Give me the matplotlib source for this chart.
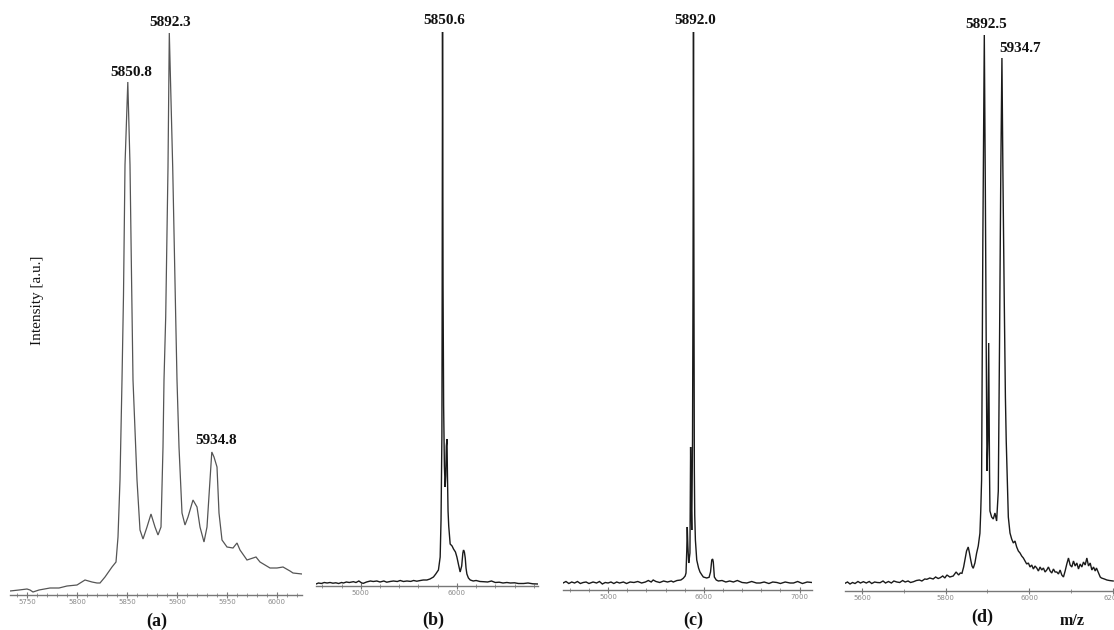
import matplotlib
matplotlib.use("Agg")
import matplotlib.pyplot as plt
from matplotlib.ticker import MultipleLocator, FixedLocator

# ---------------- data (m/z, intensity in arbitrary units) ----------------
a_mz = [5733, 5742, 5750, 5753, 5756, 5762, 5773, 5782, 5790, 5800, 5808, 5815, 5820, 5823, 5828,
        5835, 5839, 5841, 5843, 5845, 5846.5, 5848, 5850.8, 5853, 5854.5, 5856, 5860, 5863, 5866,
        5870, 5874, 5878, 5881, 5884, 5886, 5887, 5888.7, 5891, 5892.3, 5895.7, 5898.7, 5900, 5902,
        5905, 5908, 5911, 5916, 5920, 5923, 5927, 5930, 5933, 5934.8, 5937, 5940, 5942, 5945, 5950,
        5956, 5960, 5963, 5970, 5979, 5983, 5993, 6000, 6006, 6013, 6016, 6025]
a_int = [4, 5, 6, 5, 3, 5, 7, 7, 9, 10, 15, 13, 12, 12, 18,
         28, 33, 58, 115, 215, 300, 430, 513, 430, 320, 215, 115, 65, 56,
         68, 81, 68, 60, 68, 148, 215, 278, 428, 562, 428, 278, 215, 148,
         82, 70, 78, 95, 88, 68, 53, 68, 115, 143, 138, 128, 82, 55, 48,
         47, 52, 45, 35, 38, 33, 27, 27, 28, 24, 22, 21]

b_mz = [4534, 4560, 4590, 4620, 4650, 4680, 4710, 4740, 4770, 4800, 4819, 4850, 4880, 4923, 4950,
        4980, 5010, 5027, 5060, 5100, 5130, 5167, 5200, 5240, 5270, 5305, 5340, 5380, 5410, 5444,
        5480, 5520, 5550, 5583, 5620, 5650, 5688, 5720, 5756, 5780, 5808, 5826, 5835, 5844, 5847,
        5850.6, 5856, 5862, 5870, 5878, 5884, 5890, 5897, 5902, 5908, 5915, 5930, 5950, 5965, 5985,
        6000, 6020, 6034, 6050, 6062, 6069, 6078, 6087, 6095, 6104, 6120, 6139, 6170, 6200, 6240,
        6277, 6320, 6360, 6400, 6440, 6480, 6520, 6556, 6600, 6640, 6694, 6740, 6790, 6844]
b_int = [2, 3, 2.5, 3.5, 3, 3.5, 2.8, 3.2, 2.5, 3.5, 3, 4, 3.5, 4.3, 3.5,
         5, 3, 2.7, 4, 5, 4.5, 5, 4, 5, 3.8, 4.5, 5, 4.5, 5.5, 4.5,
         5, 4.6, 5.5, 4.8, 5.5, 6, 6, 7, 9, 12, 16, 29, 66, 150, 300,
         554, 300, 180, 120, 99, 110, 140, 147, 110, 75, 60, 42, 40, 37, 34,
         29, 20, 14, 20, 33, 36, 34, 28, 18, 12, 8, 6, 5, 5.5, 4.5,
         4.3, 4, 5, 3.5, 3.8, 3, 3.5, 3, 3.2, 2.5, 2.5, 3, 2.2, 2]

c_mz = [4529, 4560, 4590, 4620, 4650, 4680, 4710, 4740, 4770, 4800, 4843, 4880, 4910, 4940, 4970,
        5000, 5030, 5060, 5090, 5120, 5160, 5193, 5230, 5270, 5310, 5350, 5390, 5420, 5450, 5471,
        5500, 5540, 5580, 5620, 5660, 5681, 5720, 5760, 5785, 5805, 5814, 5822, 5827, 5833, 5842,
        5850, 5855, 5862, 5867, 5874, 5882, 5887, 5892.0, 5897, 5901, 5905, 5912, 5926, 5945, 5960,
        5980, 5995, 6030, 6055, 6070, 6083, 6092, 6099, 6110, 6130, 6152, 6190, 6230, 6270, 6309,
        6350, 6400, 6449, 6500, 6550, 6588, 6630, 6680, 6720, 6763, 6800, 6850, 6900, 6937, 6980,
        7030, 7080, 7130]
c_int = [7, 8.5, 6.5, 8, 7, 8.5, 6.5, 7.5, 8, 6.5, 8, 7, 8.5, 6, 7.5,
         7, 8, 6.5, 8, 7, 8, 6.5, 8, 7.5, 8.5, 7, 8, 9.5, 8, 10,
         8.5, 7.5, 9, 8, 9, 8, 9.5, 10, 11.7, 14, 17, 40, 63, 45, 27,
         33, 37, 143, 90, 60, 150, 300, 558, 300, 120, 75, 50, 30, 22, 18,
         15, 13, 12, 12.7, 18, 30, 31, 28, 13, 10, 9, 9.5, 8, 9, 8,
         9.5, 7.5, 7, 8.5, 7, 7, 8, 6.5, 8, 7.5, 6.5, 8, 7, 7, 8.5,
         6.5, 8, 7.5]

d_mz = [5559, 5565, 5571, 5577, 5583, 5590, 5596, 5603, 5610, 5617, 5623, 5630, 5636, 5643, 5650,
        5656, 5663, 5670, 5676, 5683, 5690, 5697, 5703, 5710, 5716, 5723, 5730, 5737, 5743, 5750,
        5755, 5762, 5770, 5776, 5782, 5787, 5793, 5798, 5803, 5810, 5818, 5825, 5831, 5835, 5839,
        5843, 5846, 5850, 5854, 5857, 5860, 5863, 5866, 5870, 5874, 5878, 5882, 5884, 5886, 5889,
        5892.5, 5895, 5897, 5899, 5901, 5903, 5905, 5906, 5910, 5914, 5918, 5922, 5926, 5929, 5932,
        5934.7, 5937, 5940, 5943, 5945, 5946, 5950, 5954, 5958, 5962, 5966, 5970, 5974, 5978, 5982,
        5986, 5990, 5994, 5998, 6002, 6006, 6010, 6014, 6018, 6022, 6026, 6030, 6034, 6038, 6042,
        6046, 6050, 6054, 6058, 6062, 6066, 6070, 6074, 6078, 6082, 6086, 6090, 6094, 6098, 6102,
        6106, 6110, 6114, 6118, 6122, 6126, 6130, 6134, 6138, 6142, 6146, 6150, 6154, 6158, 6161,
        6166, 6170, 6173, 6180, 6186, 6192, 6201]
d_int = [7.7, 9, 7, 8.5, 7.5, 9.5, 8, 9.3, 8, 9.5, 7.5, 9, 8.5, 8.3, 10,
         8, 9.5, 8, 10, 9, 8.5, 10.5, 9, 10, 8.5, 9.3, 10.5, 11, 10, 12,
         11.7, 13, 12, 14, 12.5, 13.3, 15, 13, 16, 14, 15, 19, 16, 18, 17.7,
         24, 31, 40, 44, 38, 31, 25, 22.7, 28, 37.7, 45, 57.7, 80, 111, 350,
         556, 400, 250, 120, 150, 248, 120, 80, 74, 72, 78, 70, 100, 250, 420,
         533, 420, 300, 194, 150, 134, 74, 58, 52, 48, 50, 44, 40, 38, 35,
         33, 30, 27, 28, 24, 26, 22, 25, 23, 20, 24, 21, 23, 19, 21,
         24, 20, 18, 22, 19, 19, 17, 21, 16, 14, 20, 27, 33, 26, 24,
         30, 25, 28, 22, 27, 24, 29, 26, 33, 25, 28, 21, 24, 20, 23,
         18, 14, 13, 12, 11, 10.5, 10]

a_peaks = [(5850.8, "5850.8"), (5892.3, "5892.3"), (5934.8, "5934.8")]
b_peaks = [(5850.6, "5850.6")]
c_peaks = [(5892.0, "5892.0")]
d_peaks = [(5892.5, "5892.5"), (5934.7, "5934.7")]

a_ticks = [5750, 5800, 5850, 5900, 5950, 6000]
b_ticks = [5000, 6000]
c_ticks = [5000, 6000, 7000]
d_ticks = [5600, 5800, 6000, 6200]

panel_labels = ["(a)", "(b)", "(c)", "(d)"]

# ---------------- figure ----------------
W, H = 1114, 630
fig = plt.figure(figsize=(W / 100, H / 100), dpi=100)
fig.patch.set_facecolor("white")

serif = ["Liberation Serif", "DejaVu Serif"]

def add_panel(left_px, right_px, base_px, xlim, mz, inten, ticks, minor, peaks,
              offsets, color, lw):
    ax = fig.add_axes([left_px / W, (H - base_px) / H, (right_px - left_px) / W, base_px / H])
    ax.plot(mz, inten, color=color, lw=lw, solid_joinstyle="miter")
    ax.set_xlim(*xlim)
    ax.set_ylim(0, base_px)
    ax.patch.set_alpha(0)
    for s in ("left", "right", "top"):
        ax.spines[s].set_visible(False)
    ax.spines["bottom"].set_color("#777777")
    ax.spines["bottom"].set_linewidth(1.0)
    ax.set_yticks([])
    ax.xaxis.set_major_locator(FixedLocator(ticks))
    ax.xaxis.set_minor_locator(MultipleLocator(minor))
    ax.set_xticklabels([str(t) for t in ticks])
    ax.tick_params(axis="x", which="major", direction="inout", length=4, width=0.8,
                   color="#777777", labelsize=5, labelcolor="#8a8a8a", pad=1)
    ax.tick_params(axis="x", which="minor", direction="inout", length=3, width=0.6,
                   color="#888888")
    lookup = dict(zip(mz, inten))
    for (pm, txt), (dx, dy) in zip(peaks, offsets):
        ax.annotate(txt, xy=(pm, lookup[pm]), xytext=(dx, dy), textcoords="offset pixels",
                    ha="center", va="center", fontsize=11, fontweight="bold",
                    family=serif, color="#111111", annotation_clip=False)
    return ax

add_panel(10, 302, 595, (5733, 6025), a_mz, a_int, a_ticks, 10, a_peaks,
          [(3, 10), (1, 11), (4, 11)], "#555555", 0.9)
add_panel(316, 538, 586, (4534, 6844), b_mz, b_int, b_ticks, 200, b_peaks,
          [(2, 11)], "#1a1a1a", 1.0)
add_panel(563, 812, 590, (4529, 7130), c_mz, c_int, c_ticks, 200, c_peaks,
          [(2, 11)], "#1a1a1a", 1.0)
add_panel(845, 1114, 591, (5559, 6203), d_mz, d_int, d_ticks, 100, d_peaks,
          [(2, 11), (18, 10)], "#1a1a1a", 1.0)

# y label
fig.text(38 / W, 1 - 300 / H, "Intensity [a.u.]", rotation=90, ha="center", va="center",
         fontsize=11, family=serif, color="#111111")

# panel labels
for (x, y), lab in zip([(157, 621), (433, 620), (693, 620), (982, 617)], panel_labels):
    fig.text(x / W, 1 - y / H, lab, ha="center", va="center", fontsize=13,
             fontweight="bold", family=serif, color="#111111")
fig.text(1072 / W, 1 - 621 / H, "m/z", ha="center", va="center", fontsize=11.5,
         fontweight="bold", family=serif, color="#111111")

fig.savefig("out.png", dpi=100, facecolor="white")
